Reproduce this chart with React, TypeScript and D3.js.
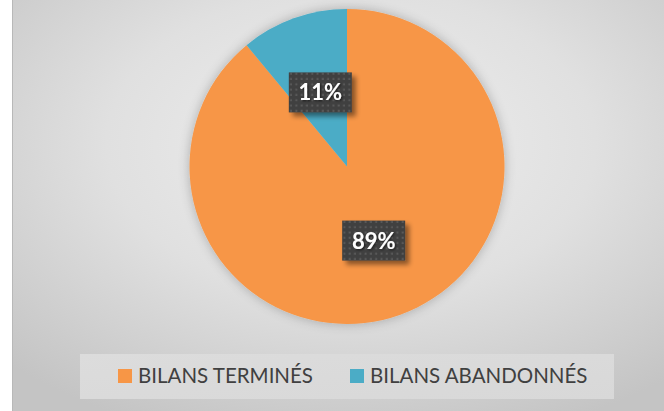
import React from "react";
import * as d3 from "d3";

const categories = ["BILANS TERMINÉS", "BILANS ABANDONNÉS"];
const values = [89, 11];
const labels = ["89%", "11%"];
const colors = ["#F79646", "#4BACC6"];

const W = 664;
const H = 411;

export default function App() {
  const cx = 347;
  const cy = 166.5;
  const R = 157.5;
  const pie = d3.pie<number>().sort(null).value((d) => d);
  const arcs = pie(values);
  const arc = d3.arc<d3.PieArcDatum<number>>().innerRadius(0).outerRadius(R);

  const legendX = 80;
  const legendY = 354;
  const legendW = 534;
  const legendH = 45;
  const legendItemsX = [118, 350];

  return (
    <svg
      width={W}
      height={H}
      style={{ position: "absolute", left: 0, top: 0 }}
      fontFamily="Lato, 'Open Sans', sans-serif"
    >
      <defs>
        <radialGradient id="bg" cx="0.52" cy="0.35" r="0.75">
          <stop offset="0" stopColor="#efefef" />
          <stop offset="0.5" stopColor="#e0e0e0" />
          <stop offset="1" stopColor="#c4c4c4" />
        </radialGradient>
        <linearGradient id="lg" x1="0" y1="0" x2="1" y2="1">
          <stop offset="0" stopColor="#dcdcdc" />
          <stop offset="1" stopColor="#d8d8d8" />
        </linearGradient>
        <filter id="pieShadow" x="-20%" y="-20%" width="140%" height="140%">
          <feGaussianBlur in="SourceAlpha" stdDeviation="6" />
          <feComponentTransfer>
            <feFuncA type="linear" slope="0.25" />
          </feComponentTransfer>
          <feMerge>
            <feMergeNode />
            <feMergeNode in="SourceGraphic" />
          </feMerge>
        </filter>
        <filter id="boxShadow" x="-30%" y="-30%" width="160%" height="160%">
          <feGaussianBlur in="SourceAlpha" stdDeviation="2.5" />
          <feOffset dx="4" dy="4" result="ob" />
          <feComponentTransfer>
            <feFuncA type="linear" slope="0.45" />
          </feComponentTransfer>
          <feMerge>
            <feMergeNode />
            <feMergeNode in="SourceGraphic" />
          </feMerge>
        </filter>
        <filter id="textShadow" x="-30%" y="-30%" width="160%" height="160%">
          <feGaussianBlur in="SourceAlpha" stdDeviation="1" />
          <feOffset dx="1" dy="1" />
          <feComponentTransfer>
            <feFuncA type="linear" slope="0.6" />
          </feComponentTransfer>
          <feMerge>
            <feMergeNode />
            <feMergeNode in="SourceGraphic" />
          </feMerge>
        </filter>
        <pattern id="dots" width="5.3" height="5.3" patternUnits="userSpaceOnUse">
          <rect width="5.3" height="5.3" fill="#404040" />
          <rect x="1.5" y="1.5" width="2" height="2" fill="#5a5a5a" />
        </pattern>
      </defs>

      <rect x={12} y={0} width={W - 12} height={H} fill="url(#bg)" />
      <line x1={12.5} y1={0} x2={12.5} y2={H} stroke="#b8b8b8" strokeWidth={1} />

      <g transform={`translate(${cx},${cy})`}>
        <g filter="url(#pieShadow)">
          {arcs.map((a, i) => (
            <path key={i} d={arc(a) || ""} fill={colors[i]} />
          ))}
        </g>
        {arcs.map((a, i) => {
          const [x, y] = arc.centroid(a);
          const bw = 63;
          const bh = 40;
          return (
            <g key={"l" + i} transform={`translate(${x},${y})`}>
              <rect
                x={-bw / 2}
                y={-bh / 2}
                width={bw}
                height={bh}
                fill="url(#dots)"
                filter="url(#boxShadow)"
              />
              <text
                x={0}
                y={0}
                dy="0.36em"
                textAnchor="middle"
                fill="#ffffff"
                fontWeight="bold"
                fontSize={22}
                filter="url(#textShadow)"
              >
                {labels[i]}
              </text>
            </g>
          );
        })}
      </g>

      <rect x={legendX} y={legendY} width={legendW} height={legendH} fill="url(#lg)" />
      {categories.map((c, i) => (
        <g key={"lg" + i}>
          <rect x={legendItemsX[i]} y={369} width={14} height={14} fill={colors[i]} />
          <text x={legendItemsX[i] + 20} y={383} fontSize={20.5} fill="#404040">
            {c}
          </text>
        </g>
      ))}
    </svg>
  );
}
